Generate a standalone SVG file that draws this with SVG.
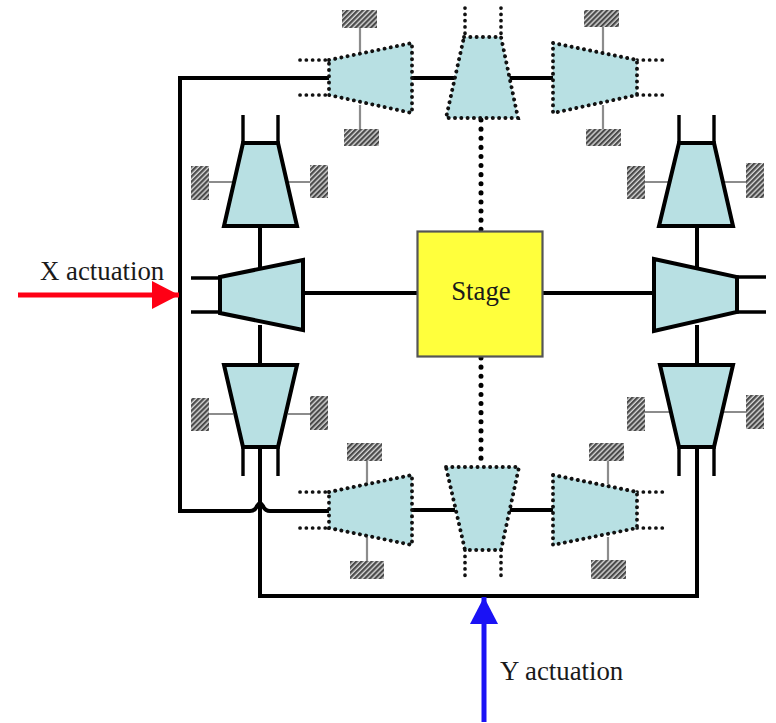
<svg xmlns="http://www.w3.org/2000/svg" width="776" height="723" viewBox="0 0 776 723">
<style>
.t{fill:#b8e0e3;stroke:#000;stroke-width:4;stroke-linejoin:miter}
.td{fill:#b8e0e3;stroke:#111;stroke-width:3.9;stroke-linecap:round;stroke-dasharray:.1 6.2}
.s{fill:none;stroke:#000;stroke-width:4}
.st{fill:none;stroke:#000;stroke-width:3.4}
.d{fill:none;stroke:#111;stroke-width:3.7;stroke-linecap:round;stroke-dasharray:.1 6.2}
.dc{fill:none;stroke:#000;stroke-width:5;stroke-linecap:round;stroke-dasharray:.1 9}
.g{fill:none;stroke:#8c8c8c;stroke-width:2.2}
.h{fill:url(#hatch)}
.l{font-family:"Liberation Serif","Times New Roman",serif;font-size:26.8px;fill:#1a1a1a}
</style>
<defs>
<pattern id="hatch" width="3.6" height="3.6" patternUnits="userSpaceOnUse" patternTransform="rotate(-45)">
<rect width="3.6" height="3.6" fill="#d8d8d8"/>
<rect width="3.6" height="2.2" fill="#4a4a4a"/>
</pattern>
<marker id="ra" markerUnits="userSpaceOnUse" markerWidth="28" markerHeight="28" refX="27" refY="14" orient="auto"><path d="M0 0L27 14L0 28Z" fill="#ff0015"/></marker>
<marker id="ba" markerUnits="userSpaceOnUse" markerWidth="28" markerHeight="28" refX="27" refY="14" orient="auto"><path d="M0 0L27 14L0 28Z" fill="#1a12f5"/></marker>
</defs>
<rect width="776" height="723" fill="#fff"/>
<g id="connectors">
<path class="s" d="M329 78H180V511H250Q255 511 257 506Q260 501 263 506Q265 511 270 511H329"/>
<path class="s" d="M412 78H455M508 78H553"/>
<path class="s" d="M412 510H455M509 510H553"/>
<path class="s" d="M260 226V270M260 325V365"/>
<path class="s" d="M697 226V268M697 325V365"/>
<path class="s" d="M260 447V596H697V447"/>
<path class="s" d="M303 293H417M542 293H654"/>
<path class="dc" d="M481 120V230M481 358V466"/>
<path class="st" d="M243 115V143M278 115V143M191 278H220M191 312H220M243 447V476M278 447V476"/>
<path class="st" d="M679 115V143M714 115V143M737 277H766M737 312H766M679 447V476M714 447V476"/>
<path class="d" d="M300 60H329M300 95H329M637 60H666M637 95H666M465 8V37M501 8V37"/>
<path class="d" d="M300 492H329M300 528H329M637 492H666M637 528H666M465 550V578M501 550V578"/>
<path class="g" d="M360 28V52M360 105V129M603 27V52M603 105V129"/>
<path class="g" d="M367 461V484M367 537V561M608 461V484M608 537V560"/>
<path class="g" d="M209 182H233M288 182H310M645 182H669M723 182H746"/>
<path class="g" d="M209 414H233M288 414H310M645 412H669M723 412H746"/>
</g>
<g id="anchors">
<rect class="h" x="342" y="10" width="35" height="18"/><rect class="h" x="344" y="129" width="35" height="17"/>
<rect class="h" x="584" y="10" width="35" height="17"/><rect class="h" x="586" y="129" width="35" height="17"/>
<rect class="h" x="347" y="443" width="35" height="18"/><rect class="h" x="350" y="561" width="34" height="18"/>
<rect class="h" x="589" y="443" width="35" height="18"/><rect class="h" x="591" y="560" width="35" height="19"/>
<rect class="h" x="191" y="166" width="18" height="34"/><rect class="h" x="310" y="165" width="18" height="33"/>
<rect class="h" x="191" y="398" width="18" height="33"/><rect class="h" x="310" y="396" width="18" height="34"/>
<rect class="h" x="627" y="166" width="18" height="33"/><rect class="h" x="746" y="163" width="18" height="35"/>
<rect class="h" x="627" y="397" width="18" height="34"/><rect class="h" x="746" y="395" width="18" height="34"/>
</g>
<g id="flexure-top-left"><path class="td" d="M329 60L412 43V113L329 95Z"/></g>
<g id="flexure-top-mid"><path class="td" d="M464 37H501L518 118H446Z"/></g>
<g id="flexure-top-right"><path class="td" d="M553 43L637 60V95L553 113Z"/></g>
<g id="flexure-bottom-left"><path class="td" d="M329 492L412 475V545L329 528Z"/></g>
<g id="flexure-bottom-mid"><path class="td" d="M446 467H519L501 550H465Z"/></g>
<g id="flexure-bottom-right"><path class="td" d="M553 475L637 492V528L553 545Z"/></g>
<g id="flexure-left-top"><path class="t" d="M243 143H278L297 226H224Z"/></g>
<g id="flexure-left-mid"><path class="t" d="M220 277L303 260V330L220 313Z"/></g>
<g id="flexure-left-bottom"><path class="t" d="M224 365H297L278 447H243Z"/></g>
<g id="flexure-right-top"><path class="t" d="M679 143H714L733 226H659Z"/></g>
<g id="flexure-right-mid"><path class="t" d="M654 259L737 277V312L654 331Z"/></g>
<g id="flexure-right-bottom"><path class="t" d="M660 365H733L714 447H679Z"/></g>
<g id="stage">
<rect x="417.500" y="231.500" width="125" height="125" fill="#ffff3c" stroke="#555" stroke-width="2.200"/>
<text class="l" x="481" y="300" text-anchor="middle">Stage</text>
</g>
<g id="x-actuation">
<path d="M18 295H179" stroke="#ff0015" stroke-width="5" fill="none" marker-end="url(#ra)"/>
<text class="l" x="40" y="280">X actuation</text>
</g>
<g id="y-actuation">
<path d="M484 722V597" stroke="#1a12f5" stroke-width="5" fill="none" marker-end="url(#ba)"/>
<text class="l" x="500" y="680">Y actuation</text>
</g>
</svg>
